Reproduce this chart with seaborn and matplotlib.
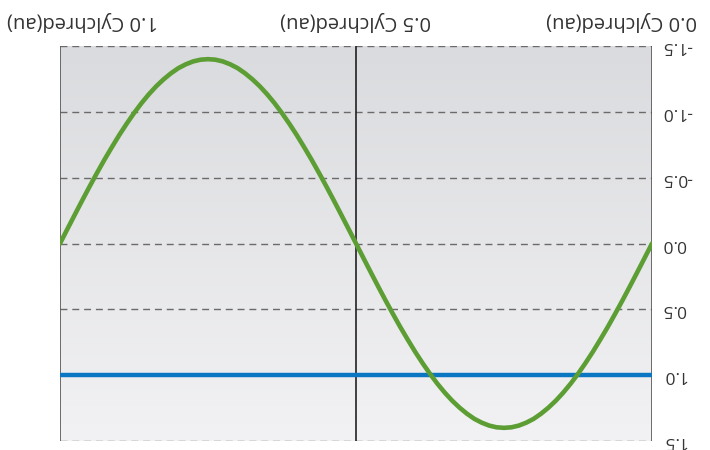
import numpy as np
import pandas as pd
import seaborn as sns
import matplotlib.pyplot as plt
import matplotlib.transforms as mtransforms
from matplotlib.colors import LinearSegmentedColormap

# Data
cycle = [i / 80 for i in range(81)]
wave = [0.0, 0.110, 0.219, 0.327, 0.433, 0.536, 0.636, 0.731, 0.823, 0.909,
        0.990, 1.065, 1.133, 1.194, 1.247, 1.293, 1.332, 1.361, 1.383, 1.396,
        1.400, 1.396, 1.383, 1.361, 1.332, 1.293, 1.247, 1.194, 1.133, 1.065,
        0.990, 0.909, 0.823, 0.731, 0.636, 0.536, 0.433, 0.327, 0.219, 0.110,
        0.0, -0.110, -0.219, -0.327, -0.433, -0.536, -0.636, -0.731, -0.823, -0.909,
        -0.990, -1.065, -1.133, -1.194, -1.247, -1.293, -1.332, -1.361, -1.383, -1.396,
        -1.400, -1.396, -1.383, -1.361, -1.332, -1.293, -1.247, -1.194, -1.133, -1.065,
        -0.990, -0.909, -0.823, -0.731, -0.636, -0.536, -0.433, -0.327, -0.219, -0.110, 0.0]
level_x = [0.0, 1.0]
level_y = [1.0, 1.0]
x_ticks = [0.0, 0.5, 1.0]
x_labels = ["0.0 Cylchred(au)", "0.5 Cylchred(au)", "1.0 Cylchred(au)"]
y_ticks = [-1.5, -1.0, -0.5, 0.0, 0.5, 1.0, 1.5]
y_labels = ["-1.5", "-1.0", "-0.5", "0.0", "0.5", "1.0", "1.5"]

sns.set_style("white")
plt.rcParams['font.family'] = ['Open Sans', 'DejaVu Sans']

fig = plt.figure(figsize=(7.1, 4.5), dpi=100)
ax = fig.add_axes([60 / 710, 9 / 450, 592 / 710, 395 / 450])

# background gradient (darker at the top of the picture)
grad = np.linspace(0, 1, 256).reshape(-1, 1)
ax.imshow(grad, cmap=LinearSegmentedColormap.from_list("bg", ["#dadbde", "#f2f2f4"]),
          extent=[0, 1, 0, 1], transform=ax.transAxes,
          aspect='auto', origin='upper', zorder=0)

sns.lineplot(x=cycle, y=wave, color="#5c9e34", linewidth=3.3, ax=ax, zorder=4)
sns.lineplot(x=level_x, y=level_y, color="#0b76c1", linewidth=3.2, ax=ax, zorder=3)

# picture is upside down: invert both axes
ax.set_xlim(1.0, 0.0)
ax.set_ylim(1.5, -1.5)

for y in y_ticks:
    ax.axhline(y, color="#6a6a6a", linewidth=1, linestyle=(0, (5, 3.5)), zorder=1)
for x, c in zip(x_ticks, ["#555555", "#222222", "#555555"]):
    ax.axvline(x, color=c, linewidth=1.2, zorder=2)

for s in ax.spines.values():
    s.set_visible(False)

ax.xaxis.tick_top()
ax.yaxis.tick_right()
ax.set_xticks(x_ticks, x_labels)
ax.set_yticks(y_ticks, y_labels)
ax.tick_params(axis='x', length=0, pad=10.5, labelsize=14.5, labelcolor="#333333", labelrotation=180)
ax.tick_params(axis='y', length=0, pad=7, labelsize=12.5, labelcolor="#333333", labelrotation=180)
for lab in ax.get_yticklabels():
    lab.set_verticalalignment('center')
ax.set_xlabel("")
ax.set_ylabel("")

# pull the edge labels inside the canvas
shifts = [-30, 0, 23]
for lab, dx in zip(ax.get_xticklabels(), shifts):
    lab.set_transform(lab.get_transform() + mtransforms.ScaledTranslation(dx / 100, 0, fig.dpi_scale_trans))

plt.savefig("out.png", dpi=100)
